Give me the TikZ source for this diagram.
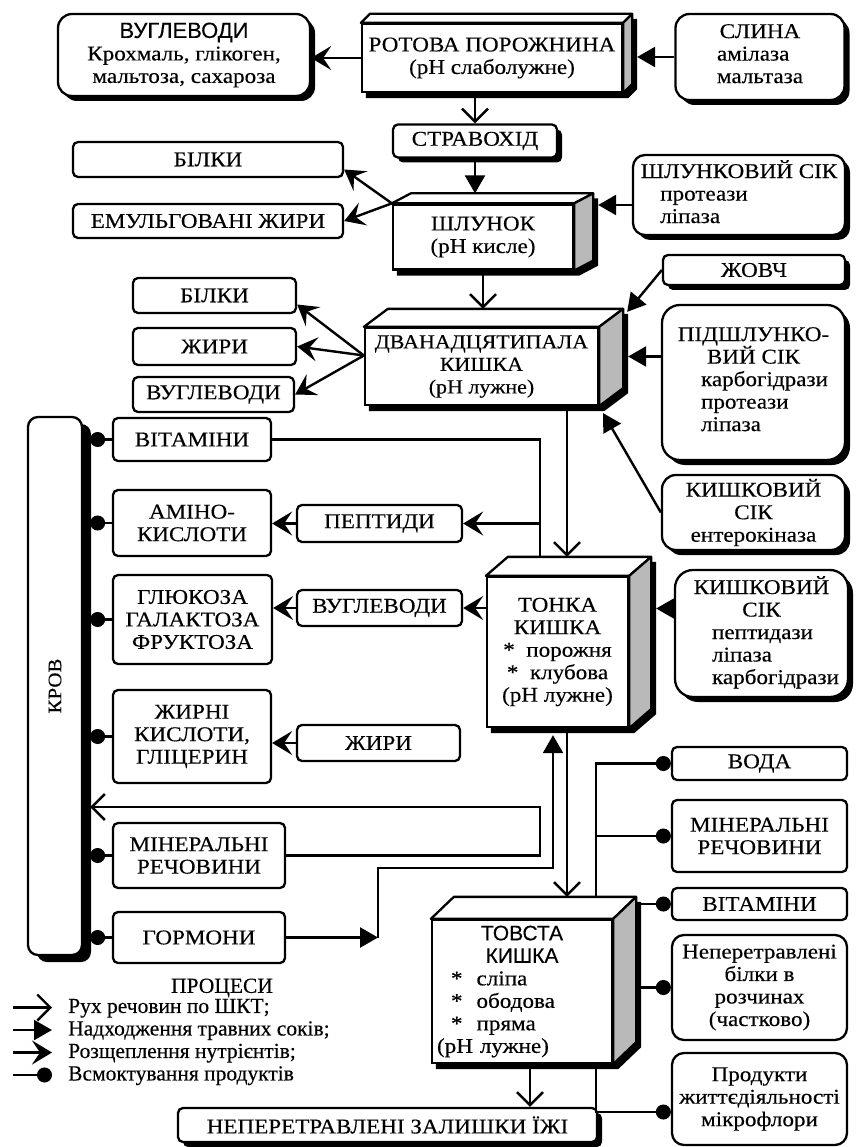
\documentclass[tikz,border=0pt]{standalone}
\usepackage{fontspec}
\setmainfont{Liberation Serif}[FakeStretch=1.1, FakeBold=0.3]
\setsansfont{Liberation Sans}[FakeBold=0.3]
\newfontfamily\legendfont{Liberation Serif}[FakeBold=0.3]
\usepackage{graphicx}
\usetikzlibrary{arrows.meta,shadows}

\pgfdeclarelayer{back}
\pgfsetlayers{back,main}

\tikzset{
  box/.style={draw, line width=2.3pt, rounded corners=5pt, fill=white, align=center, inner sep=2pt},
  sbox/.style={box, drop shadow={shadow xshift=5pt, shadow yshift=-5pt, fill=black, opacity=1}},
  organ/.style={draw, line width=2.3pt, fill=white, align=center, inner sep=2pt},
  face/.style={draw, line width=2.3pt, line join=round},
  link/.style={line width=2.4pt},
  move/.style={link, -{Straight Barb[length=13pt,width=26pt]}},
  juice/.style={link, -{Triangle[length=18pt,width=20pt]}},
  split/.style={link, -{Stealth[length=20pt,width=24pt,inset=8pt]}},
  absorb/.style={link, -{Circle[length=15pt]}},
}

% 3d box round a node: name, depth x, depth y
\newcommand{\gutbox}[3]{%
  \coordinate (#1-nw) at ([shift={(#2pt,#3pt)}]#1.north west);
  \coordinate (#1-ne) at ([shift={(#2pt,#3pt)}]#1.north east);
  \coordinate (#1-se) at ([shift={(#2pt,#3pt)}]#1.south east);
  \coordinate (#1-top) at ([yshift=#3pt]#1.north);
  \coordinate (#1-back) at ([xshift=#2pt+5pt]#1.east);
  \begin{pgfonlayer}{back}
    \fill ([shift={(5pt,-5pt)}]#1.south west) -- ([shift={(5pt,-5pt)}]#1.north west)
      -- ([shift={(5pt,-5pt)}]#1-nw) -- ([shift={(5pt,-5pt)}]#1-ne)
      -- ([shift={(5pt,-5pt)}]#1-se) -- ([shift={(5pt,-5pt)}]#1.south east) -- cycle;
  \end{pgfonlayer}
  \draw[face, fill=white] (#1.north west) -- (#1-nw) -- (#1-ne) -- (#1.north east) -- cycle;
  \draw[face, fill=gray!55] (#1.north east) -- (#1-ne) -- (#1-se) -- (#1.south east) -- cycle;
}

\begin{document}
\begin{tikzpicture}[x=1pt, y=-1pt, font=\fontsize{21}{22.5}\selectfont]
  \begin{pgfonlayer}{back}
    \fill[white] (0,0) rectangle (855,1147);
  \end{pgfonlayer}
  \useasboundingbox (0,0) rectangle (855,1147);
  % mouth
  \node[sbox, rounded corners=14pt, minimum width=252, minimum height=82] (carbtop) at (184,55) {{\sffamily\fontsize{22}{22.5}\selectfont ВУГЛЕВОДИ}\\Крохмаль, глікоген,\\мальтоза, сахароза};
  \node[organ, minimum width=260, minimum height=68] (mouth) at (492,58) {РОТОВА ПОРОЖНИНА\\(pH слаболужне)};
  \gutbox{mouth}{9}{9}
  \node[sbox, rounded corners=14pt, minimum width=169, minimum height=86] (saliva) at (760,57) {СЛИНА\\\begin{tabular}[t]{@{}l@{}}амілаза\\мальтаза\end{tabular}};
  % stomach
  \node[sbox, minimum width=164, minimum height=33] (esoph) at (475,141) {СТРАВОХІД};
  \node[organ, minimum width=180, minimum height=65] (stomach) at (483,237) {ШЛУНОК\\(pH кисле)};
  \gutbox{stomach}{19}{10}
  \node[box, minimum width=270, minimum height=35] (protS) at (208,159.5) {БІЛКИ};
  \node[box, minimum width=270, minimum height=34] (fatS) at (208,221) {ЕМУЛЬГОВАНІ ЖИРИ};
  \node[sbox, rounded corners=12pt, minimum width=212, minimum height=80] (gastric) at (739,195) {ШЛУНКОВИЙ СІК\\\begin{tabular}[t]{@{}l@{}}протеази\\ліпаза\end{tabular}\hspace*{70pt}};
  % duodenum
  \node[organ, minimum width=233, minimum height=77, font=\fontsize{20}{22.5}\selectfont] (duod) at (481.5,366.5) {ДВАНАДЦЯТИПАЛА\\КИШКА\\(pH лужне)};
  \gutbox{duod}{24}{18}
  \node[box, minimum width=163, minimum height=35] (protD) at (214.5,295.5) {БІЛКИ};
  \node[box, minimum width=163, minimum height=37] (fatD) at (214.5,346.5) {ЖИРИ};
  \node[box, minimum width=161, minimum height=35] (carbD) at (213.5,394.5) {ВУГЛЕВОДИ};
  \node[sbox, minimum width=182, minimum height=30] (bile) at (754,270) {ЖОВЧ};
  \node[sbox, rounded corners=18pt, minimum width=183, minimum height=155] (pancr) at (753.5,382.5) {ПІДШЛУНКО-\\ВИЙ СІК\\\hspace*{22pt}\begin{tabular}[t]{@{}l@{}}карбогідрази\\протеази\\ліпаза\end{tabular}};
  \node[sbox, rounded corners=14pt, minimum width=183, minimum height=75] (intes1) at (753.5,512.5) {КИШКОВИЙ\\СІК\\ентерокіназа};
  % small intestine
  \node[organ, minimum width=141, minimum height=150] (small) at (557.5,652) {ТОНКА\\КИШКА\\*\ \ порожня\\*\ \ клубова\\(pH лужне)};
  \gutbox{small}{22}{19}
  \node[box, minimum width=158, minimum height=43] (vitL) at (192,439.5) {ВІТАМІНИ};
  \node[box, minimum width=158, minimum height=66] (amino) at (192,523) {АМІНО-\\КИСЛОТИ};
  \node[box, minimum width=165, minimum height=37] (pept) at (379.5,523.5) {ПЕПТИДИ};
  \node[box, minimum width=165, minimum height=36] (carbS) at (379.5,608) {ВУГЛЕВОДИ};
  \node[box, minimum width=159, minimum height=89] (gluc) at (192.5,619.5) {ГЛЮКОЗА\\ГАЛАКТОЗА\\ФРУКТОЗА};
  \node[box, minimum width=158, minimum height=93] (fatty) at (192,736.5) {ЖИРНІ\\КИСЛОТИ,\\ГЛІЦЕРИН};
  \node[box, minimum width=163, minimum height=36] (fatS2) at (378.5,743) {ЖИРИ};
  \node[sbox, rounded corners=18pt, minimum width=173, minimum height=127] (intes2) at (761.5,633.5) {КИШКОВИЙ\\СІК\\\hspace*{28pt}\begin{tabular}[t]{@{}l@{}}пептидази\\ліпаза\\карбогідрази\end{tabular}};
  % blood
  \node[box, rounded corners=10pt, minimum width=54, minimum height=538, font=\fontsize{19}{20}\selectfont,
    drop shadow={shadow xshift=9pt, shadow yshift=-7pt, fill=black, opacity=1}] (blood) at (55,686) {\rotatebox{90}{КРОВ}};
  \node[box, minimum width=172, minimum height=65] (minL) at (199,855.5) {МІНЕРАЛЬНІ\\РЕЧОВИНИ};
  \node[box, minimum width=172, minimum height=51] (horm) at (199,937.5) {ГОРМОНИ};
  % large intestine
  \node[organ, minimum width=180, minimum height=143, text width=170] (large) at (522,991.5)
    {\centering\sffamily ТОВСТА\\КИШКА\par\raggedright\rmfamily\ \ *\ \ сліпа\\\ \ *\ \ ободова\\\ \ *\ \ пряма\\(pH лужне)\par};
  \gutbox{large}{23}{22}
  \node[box, minimum width=175, minimum height=33] (water) at (759.5,763.5) {ВОДА};
  \node[box, minimum width=175, minimum height=72] (minR) at (759.5,836) {МІНЕРАЛЬНІ\\РЕЧОВИНИ};
  \node[box, minimum width=175, minimum height=32] (vitR) at (759.5,904) {ВІТАМІНИ};
  \node[box, rounded corners=12pt, minimum width=175, minimum height=105] (undig) at (759.5,987.5) {Неперетравлені\\білки в\\розчинах\\(частково)};
  \node[box, rounded corners=12pt, minimum width=175, minimum height=92] (micro) at (759.5,1099) {Продукти\\життєдіяльності\\мікрофлори};
  \node[sbox, minimum width=419, minimum height=34] (rest) at (387.5,1125) {НЕПЕРЕТРАВЛЕНІ ЗАЛИШКИ ЇЖІ};
  % legend
  \node[font=\legendfont\fontsize{21.5}{22.5}\selectfont] (legtitle) at (222,988) {ПРОЦЕСИ};
  \node[anchor=west, align=left, font=\legendfont\fontsize{21.5}{22.5}\selectfont, inner sep=0pt] (legtext) at (68,1042)
    {Рух речовин по ШКТ;\\Надходження травних соків;\\Розщеплення нутрієнтів;\\Всмоктування продуктів};
  \foreach \s [count=\i] in {move,juice,split,absorb} {
    \coordinate (k\i) at (13,985+22.5*\i);
    \coordinate (t\i) at (52,985+22.5*\i);
    \draw[\s] (k\i) -- (t\i);
  }
  % lines
  \coordinate (gut) at (567,0);
  \coordinate (trunk) at (540,0);
  \coordinate (loop) at (540,807);
  \coordinate (relay) at (378,868);
  \coordinate (rise) at (553,868);
  \coordinate (rtrunk) at (596,0);
  \coordinate (exit) at (530,0);
  \coordinate (bar) at ([xshift=7pt]blood.east);
  \coordinate (smallfoot) at ([yshift=-7pt]small.south);
  % tract
  \draw[move] (esoph.north |- mouth.south) -- (esoph.north);
  \draw[juice] (esoph.south) -- (esoph.south |- stomach-top);
  \draw[move] (stomach.south) -- (stomach.south |- duod-top);
  \draw[move] (duod.south -| gut) -- (small-top -| gut);
  \draw[move] (small.south -| gut) -- (large-top -| gut);
  \draw[move] (large.south -| exit) -- (rest.north -| exit);
  % juices
  \draw[juice] (saliva.west) -- (saliva.west -| mouth-back);
  \draw[juice] ([yshift=-10pt]gastric.west) -- ([yshift=-10pt]gastric.west -| stomach-back);
  \draw[juice] (bile.west) -- ([shift={(4pt,-3pt)}]duod-ne);
  \draw[juice] ([yshift=26pt]pancr.west) -- ([yshift=26pt]pancr.west -| duod-back);
  \draw[juice] (intes1.west) -- ([shift={(4pt,-7pt)}]duod.south east);
  \draw[juice] ([yshift=25pt]intes2.west) -- ([yshift=25pt]intes2.west -| small-back);
  % splitting
  \draw[split] (mouth.west) -- (mouth.west -| carbtop.east);
  \draw[split] (stomach.north west) -- ([yshift=-10pt]protS.east);
  \draw[split] (stomach.north west) -- (fatS.east);
  \draw[split] ([yshift=11pt]duod.west) -- ([yshift=-9pt]protD.east);
  \draw[split] ([yshift=11pt]duod.west) -- (fatD.east);
  \draw[split] ([yshift=11pt]duod.west) -- (carbD.east);
  \draw[link] (vitL.east) -| (small-top -| trunk);
  \draw[split] (pept.east -| trunk) -- (pept.east);
  \draw[split] (pept.west) -- (pept.west -| amino.east);
  \draw[split] (carbS.east -| small.west) -- (carbS.east);
  \draw[split] (carbS.west) -- (carbS.west -| gluc.east);
  \draw[split] (fatS2.west) -- (fatS2.west -| fatty.east);
  % absorption
  \foreach \n in {vitL,amino,gluc,fatty,minL,horm}
    \draw[absorb] (\n.west) -- (\n.west -| bar);
  \draw[move] (minL.east) -| (loop) -- (loop -| bar);
  \draw[juice] (horm.east) -- (horm.east -| relay);
  \draw[juice] (horm.east -| relay) -- (relay) -- (rise) -- (rise |- smallfoot);
  \draw[absorb] (large-top -| rtrunk) |- (water.west);
  \draw[absorb] (minR.west -| rtrunk) -- (minR.west);
  \draw[absorb] (vitR.west -| large-back) -- (vitR.west);
  \draw[absorb] (undig.west -| large-back) -- (undig.west);
  \draw[absorb] (large.south -| rtrunk) |- ([yshift=-13pt]micro.west);
\end{tikzpicture}
\end{document}
